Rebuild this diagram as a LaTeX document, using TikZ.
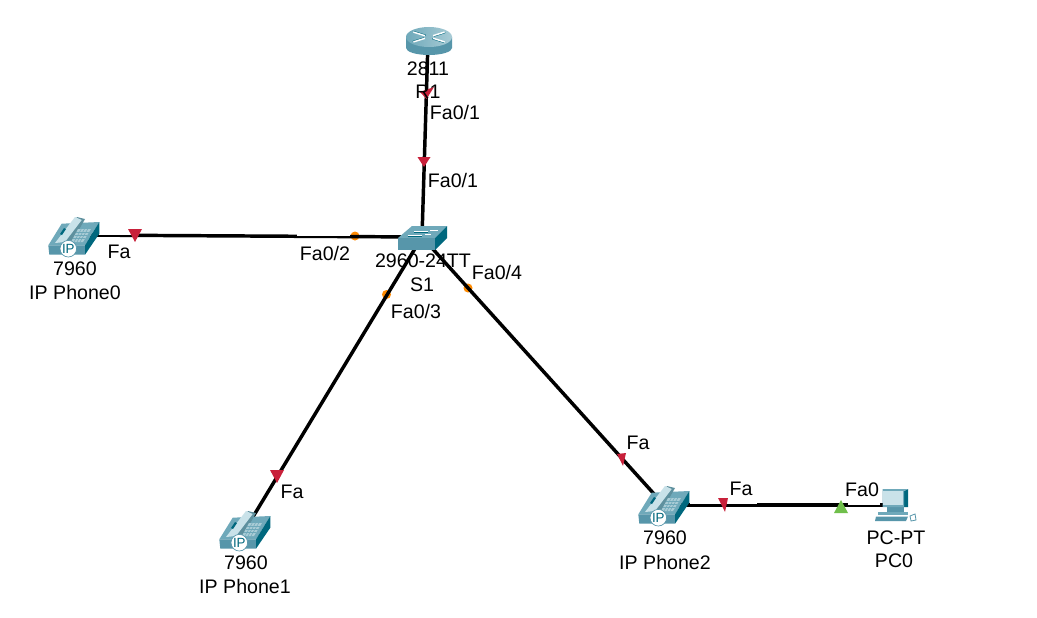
\documentclass[tikz,border=0pt]{standalone}
\usepackage{fontspec}
\usetikzlibrary{calc}
\setmainfont{Liberation Sans}
\begin{document}
\begin{tikzpicture}[x=0.75pt,y=-0.75pt,
  link/.style={draw=black,line width=2.6pt},
  portlabel/.style={fill=white,inner xsep=1pt,inner ysep=2pt,font=\fontsize{14.7}{16}\selectfont,text=black},
  devlabel/.style={inner sep=0pt,font=\fontsize{14.7}{16}\selectfont,text=black},
  redmark/.style={fill=markRed},
  greenmark/.style={fill=markGreen},
  orangemark/.style={fill=markOrange},
  phone/.pic={
    \fill[fill=phTop] (-25.7,9.3)--(-12.3,-12.3)--(25.3,-14)--(11,9.3)--cycle;
    \fill[fill=phFront] (-25.7,9.3)--(11,9.3)--(11,18.7)--(-24.7,18.7)--cycle;
    \fill[fill=phDark] (11,9.3)--(25.3,-14)--(25.3,-2.3)--(11,18.7)--cycle;
    \fill[fill=phTop!85!black] (-12,3)--(3,-19)--(11,-17)--(-2,6)--cycle;
    \fill[fill=phLight] (-19,7)--(1,-19)--(7.7,-16)--(-9,6)--cycle;
    \fill[fill=phKey] (-3,6)--(4,-7)--(17,-7)--(9,6)--cycle;
    \foreach \t in {0.25,0.5,0.75}{
      \draw[phTop,line width=0.4pt] ($(-3,6)!\t!(4,-7)$)--($(9,6)!\t!(17,-7)$);
      \draw[phTop,line width=0.4pt] ($(-3,6)!\t!(9,6)$)--($(4,-7)!\t!(17,-7)$);
    }
    \fill[fill=phDark] (-14,-2)--(-10,-8)--(-8,-7)--(-12,-1)--cycle;
    \filldraw[fill=white,draw=phFront,line width=0.5pt] (-5.7,12.7) circle [radius=8.3];
    \node[inner sep=0pt,font=\fontsize{10}{10}\selectfont,text=phDark] at (-5.7,12.7) {IP};
  },
  router/.pic={
    \shade[left color=phFront,middle color=phPale,right color=phFront] (-23,-4) -- (-23,7) arc [start angle=180,end angle=0,x radius=23,y radius=7] -- (23,-4) -- cycle;
    \shade[left color=phTop,right color=phKey] (0,-4) circle [x radius=23,y radius=10];
    \foreach \a in {35,145,215,325}{
      \begin{scope}[shift={(0,-4)},yscale=0.45,rotate=\a]
        \draw[phDark,line width=0.9pt] (5,1.2)--(19,1.2);
        \draw[white,line width=1.1pt] (5,0)--(19,0);
      \end{scope}
    }
  },
  switchicon/.pic={
    \fill[fill=phTop] (-24,1)--(-10,-11)--(25,-11)--(13,1)--cycle;
    \fill[fill=phFront] (-24,1)--(13,1)--(13,13)--(-24,13)--cycle;
    \fill[fill=phDark] (13,1)--(25,-11)--(25,1)--(13,13)--cycle;
    \draw[white,line width=0.7pt] (-8,-6)--(6,-6) (-14,-2)--(0,-2) (8,-7)--(16,-7) (3,-3)--(9,-3);
    \draw[phDark,line width=0.5pt] (-8,-5)--(6,-5) (-14,-1)--(0,-1);
  },
  pcicon/.pic={
    \fill[fill=phFront] (-7,0)--(10,0)--(10,5)--(-7,5)--cycle;
    \fill[fill=phTop] (-16,5)--(14,5)--(14,8)--(-16,8)--cycle;
    \fill[fill=phFront] (-18,9.5)--(14,9.5)--(12,14)--(-19,14)--cycle;
    \fill[fill=phDark] (14,-18)--(10,-16)--(10,0)--(14,0)--cycle;
    \fill[fill=phTop] (-11.3,-18)--(14,-18)--(10,-16)--(10,0)--(-11.3,0)--cycle;
    \fill[fill=phLight] (-10.7,-15.7)--(8.5,-15.7)--(8.5,-2.3)--(-10.7,-2.3)--cycle;
    \filldraw[fill=white,draw=phFront,line width=0.6pt] (16,9)--(21,7)--(22,13)--(17,14)--cycle;
  }]
\definecolor{phTop}{HTML}{6FA9BA}
\definecolor{phFront}{HTML}{5796AA}
\definecolor{phDark}{HTML}{00687E}
\definecolor{phLight}{HTML}{C9E2E9}
\definecolor{phPale}{HTML}{DCEEF2}
\definecolor{phKey}{HTML}{A9CCD6}
\definecolor{markRed}{HTML}{C8203A}
\definecolor{markGreen}{HTML}{70BF4B}
\definecolor{markOrange}{HTML}{FF8A00}
\useasboundingbox (0,0) rectangle (1037,617);
\fill[white] (0,0) rectangle (1037,617);

% device anchors
\coordinate (r1) at (428,41);
\coordinate (s1) at (422,237);
\coordinate (ph0) at (74,235);
\coordinate (ph1) at (245,530);
\coordinate (ph2) at (664,505);
\coordinate (pc0) at (894,505);

% port dots sit below the links
\fill[orangemark] (355,236) circle [radius=4.5];
\fill[orangemark] (386.5,294.5) circle [radius=4.5];
\fill[orangemark] (468,288) circle [radius=4.5];

% links
\draw[link] (r1) -- (s1);
\draw[link] (ph0) -- (s1);
\draw[link] (ph1) -- (s1);
\draw[link] (ph2) -- (s1);
\draw[link] (ph2) -- (pc0);

% thinned stretches of link under the port label boxes
\fill[white] (99,231) rectangle (131,235);
\fill[white] (297,231) rectangle (350,236.3);
\fill[white] (690,500) rectangle (757,504.2);
\fill[white] (848,500) rectangle (880,505);

% icons
\pic at (429,41) {router};
\pic at (422,237) {switchicon};
\pic at (74,236) {phone};
\pic at (245,530) {phone};
\pic at (664,505) {phone};
\pic at (894,507) {pcicon};

% link state marks
\fill[redmark] (420,92)--(434,87)--(426.5,99)--cycle;
\fill[redmark] (417.5,157)--(430.5,157)--(424,167)--cycle;
\fill[redmark] (128,229)--(142,229)--(135,242)--cycle;
\fill[redmark] (270,470)--(284,470)--(277,483)--cycle;
\fill[redmark] (617,454)--(626,453)--(623,466)--cycle;
\fill[redmark] (718,498)--(728,498)--(725,512)--cycle;
\fill[greenmark] (834,513)--(848,513)--(841,500)--cycle;

% port labels
\node[portlabel] (pl1) at (455,112) {Fa0/1};
\node[portlabel] (pl2) at (453,180) {Fa0/1};
\node[portlabel] (pl3) at (119,252) {Fa};
\node[portlabel] (pl4) at (325,253) {Fa0/2};
\node[portlabel] (pl5) at (416,311) {Fa0/3};
\node[portlabel] (pl6) at (497,272) {Fa0/4};
\node[portlabel] (pl7) at (292,492) {Fa};
\node[portlabel] (pl8) at (638,443) {Fa};
\node[portlabel] (pl9) at (741,489) {Fa};
\node[portlabel] (pl10) at (862,490) {Fa0};

% device labels
\node[devlabel] (t1) at (428,69) {2811};
\node[devlabel] (t2) at (428,92) {R1};
\node[devlabel] (t3) at (423,261) {2960-24TT};
\node[devlabel] (t4) at (422,285) {S1};
\node[devlabel] (t5) at (75,269) {7960};
\node[devlabel] (t6) at (75,292) {IP Phone0};
\node[devlabel] (t7) at (246,563) {7960};
\node[devlabel] (t8) at (245,586) {IP Phone1};
\node[devlabel] (t9) at (665,538) {7960};
\node[devlabel] (t10) at (665,562) {IP Phone2};
\node[devlabel] (t11) at (896,538) {PC-PT};
\node[devlabel] (t12) at (894,561) {PC0};
\end{tikzpicture}
\end{document}
